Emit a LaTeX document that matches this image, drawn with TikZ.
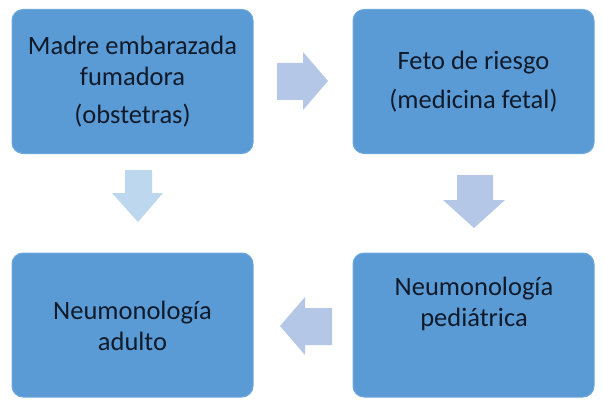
\documentclass[tikz,border=0pt]{standalone}
\usepackage{fontspec}
\setmainfont{Carlito}
\definecolor{boxblue}{HTML}{5B9BD5}
\definecolor{boxedge}{HTML}{6FA9DC}
\definecolor{arrowblue}{HTML}{B4C7E7}
\definecolor{arrowlight}{HTML}{BDD7EE}
\definecolor{txtdark}{HTML}{0F1A2A}
\begin{document}
\begin{tikzpicture}[x=1pt,y=-1pt,
  box/.style={draw=boxedge, line width=1pt, fill=boxblue, rounded corners=11pt,
    minimum width=241pt, minimum height=144pt, inner sep=0pt},
  txt/.style={text=txtdark, align=center, inner sep=0pt,
    font=\fontsize{26.5}{31.5}\selectfont},
  blockarrow/.style={fill=arrowblue, draw=none}]
\useasboundingbox (0,0) rectangle (604,401);
\fill[white] (0,0) rectangle (604,401);
% boxes
\node[box] (madre) at (132.5,81.5) {};
\node[box] (feto) at (473.5,81.5) {};
\node[box] (adulto) at (132.5,325) {};
\node[box] (ped) at (473.5,325) {};
% texts
\node[txt] (madret) at (madre.center) {Madre embarazada\\fumadora\\[6pt](obstetras)};
\node[txt] (fetot) at (feto.center) {Feto de riesgo\\[8pt](medicina fetal)};
\node[txt] (adultot) at (132.5,326) {Neumonología\\adulto};
\node[txt] (pedt) at (474,304) {Neumonología\\pediátrica};
% block arrows
\fill[blockarrow] (277,63) -- (303,63) -- (303,52) -- (328,81) -- (303,110) -- (303,100) -- (277,100) -- cycle;
\fill[blockarrow,fill=arrowlight] (125,170) -- (152,170) -- (152,193) -- (163,193) -- (138,222) -- (112,193) -- (125,193) -- cycle;
\fill[blockarrow] (457,175) -- (493,175) -- (493,200) -- (505,200) -- (474,228) -- (443,200) -- (457,200) -- cycle;
\fill[blockarrow] (332,308) -- (305,308) -- (305,297) -- (280,326) -- (305,355) -- (305,345) -- (332,345) -- cycle;
\end{tikzpicture}
\end{document}
